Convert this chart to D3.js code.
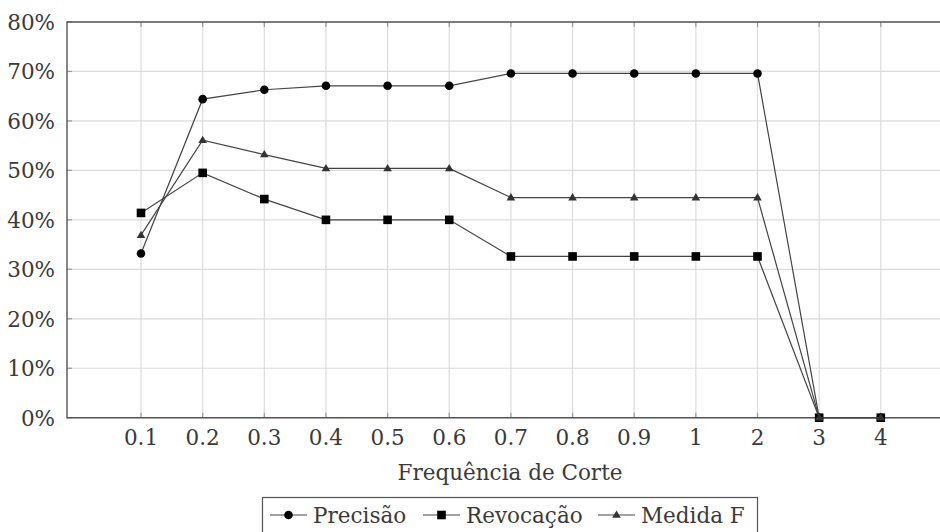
<!DOCTYPE html>
<html>
<head>
<meta charset="utf-8">
<style>
body { margin:0; background:#fff; }
svg text { font-family:"DejaVu Serif", "Liberation Serif", "Times New Roman", serif; fill:#3a3a3a; }
.grid line { stroke:#dcdcdc; stroke-width:1.2px; }
.frame { stroke:#555; stroke-width:1.4px; fill:none; }
.series { fill:none; stroke:#444; stroke-width:1.2px; }
</style>
</head>
<body>
<svg id="chart" width="940" height="532"></svg>
<script src="https://d3js.org/d3.v7.min.js"></script>
<script>

// data
let categories = ["0.1","0.2","0.3","0.4","0.5","0.6","0.7","0.8","0.9","1","2","3","4"];
let precisao  = [33.2, 64.4, 66.3, 67.1, 67.1, 67.1, 69.6, 69.6, 69.6, 69.6, 69.6, 0, 0];
let revocacao = [41.4, 49.5, 44.2, 40.0, 40.0, 40.0, 32.6, 32.6, 32.6, 32.6, 32.6, 0, 0];
let medidaF   = [36.9, 56.1, 53.2, 50.4, 50.4, 50.4, 44.5, 44.5, 44.5, 44.5, 44.5, 0, 0];
let yTicks = [0, 10, 20, 30, 40, 50, 60, 70, 80];
let seriesNames = ["Precisão", "Revocação", "Medida F"];

let series = [
  {name: seriesNames[0], values: precisao,  marker: "circle"},
  {name: seriesNames[1], values: revocacao, marker: "square"},
  {name: seriesNames[2], values: medidaF,   marker: "triangle"}
];

let step = 61.65;
let plotLeft = 67, plotTop = 22, plotBottom = 417.7;
let firstX = 141;
let plotRight = firstX + (categories.length - 1) * step + 1.2 * step;

let x = d3.scalePoint().domain(categories)
    .range([firstX, firstX + (categories.length - 1) * step]);
let y = d3.scaleLinear().domain([0, 80]).range([plotBottom, plotTop]);

let svg = d3.select("#chart");

// grid
let grid = svg.append("g").attr("class", "grid");
grid.selectAll(".gx").data(categories).enter().append("line")
    .attr("x1", d => x(d)).attr("x2", d => x(d))
    .attr("y1", plotTop).attr("y2", plotBottom);
grid.selectAll(".gy").data(yTicks).enter().append("line")
    .attr("x1", plotLeft).attr("x2", plotRight)
    .attr("y1", d => y(d)).attr("y2", d => y(d));

// little tick marks on the frame
let tk = svg.append("g").attr("stroke", "#999").attr("stroke-width", 1.2);
categories.forEach(c => {
  tk.append("line").attr("x1", x(c)).attr("x2", x(c)).attr("y1", plotTop).attr("y2", plotTop + 5);
  tk.append("line").attr("x1", x(c)).attr("x2", x(c)).attr("y1", plotBottom - 5).attr("y2", plotBottom);
});
yTicks.forEach(t => {
  tk.append("line").attr("x1", plotLeft).attr("x2", plotLeft + 5).attr("y1", y(t)).attr("y2", y(t));
});

// frame
svg.append("path").attr("class", "frame")
    .attr("d", "M" + plotRight + "," + plotTop + "H" + plotLeft + "V" + plotBottom + "H" + plotRight);

// axis labels
svg.selectAll(".ylab").data(yTicks).enter().append("text")
    .attr("x", 55).attr("y", d => y(d) + 8)
    .attr("text-anchor", "end")
    .attr("font-size", 21.5)
    .text(d => d + "%");

svg.selectAll(".xlab").data(categories).enter().append("text")
    .attr("x", d => x(d)).attr("y", 445)
    .attr("text-anchor", "middle")
    .attr("font-size", 21.5)
    .text(d => d);

svg.append("text")
    .attr("x", 510).attr("y", 480)
    .attr("text-anchor", "middle")
    .attr("font-size", 21.5)
    .text("Frequência de Corte");

// markers
function drawMarker(g, type, cx, cy) {
  if (type == "circle") {
    g.append("circle").attr("cx", cx).attr("cy", cy).attr("r", 4.3).attr("fill", "#000");
  } else if (type == "square") {
    g.append("rect").attr("x", cx - 4.3).attr("y", cy - 4.3)
      .attr("width", 8.6).attr("height", 8.6).attr("fill", "#000");
  } else {
    g.append("path")
      .attr("d", "M" + cx + "," + (cy - 4.5) + "L" + (cx + 4.3) + "," + (cy + 2.8) + "L" + (cx - 4.3) + "," + (cy + 2.8) + "Z")
      .attr("fill", "#333");
  }
}

let line = d3.line()
    .x((d, i) => x(categories[i]))
    .y(d => y(d));

series.forEach(s => {
  let g = svg.append("g");
  g.append("path").attr("class", "series").attr("d", line(s.values));
  s.values.forEach((v, i) => drawMarker(g, s.marker, x(categories[i]), y(v)));
});

// legend
let legend = svg.append("g");
legend.append("rect")
    .attr("x", 262.5).attr("y", 497.5).attr("width", 495).attr("height", 50)
    .attr("fill", "#fff").attr("stroke", "#555").attr("stroke-width", 1.2);

let legendPos = [
  {lx: 270, tx: 313},
  {lx: 423, tx: 466},
  {lx: 598, tx: 641}
];
series.forEach((s, i) => {
  let p = legendPos[i];
  legend.append("line").attr("class", "series")
    .attr("x1", p.lx).attr("x2", p.lx + 37).attr("y1", 515).attr("y2", 515);
  drawMarker(legend, s.marker, p.lx + 18.5, 515);
  legend.append("text")
    .attr("x", p.tx).attr("y", 523)
    .attr("font-size", 21.5)
    .text(s.name);
});

</script>
</body>
</html>
